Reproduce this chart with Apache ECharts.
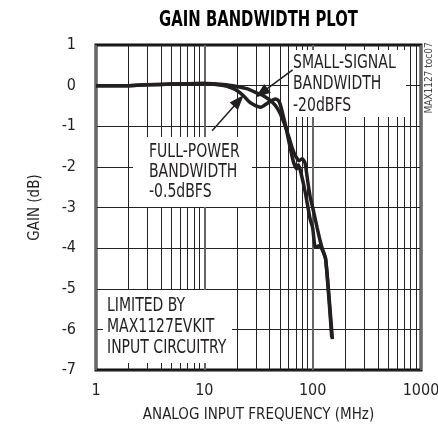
<!DOCTYPE html>
<html>
<head>
<meta charset="utf-8">
<script src="https://cdn.jsdelivr.net/npm/echarts@6/dist/echarts.min.js"></script>
<style>
  html, body { margin: 0; padding: 0; background: #fff; }
  #chart { width: 438px; height: 427px; }
</style>
</head>
<body>
<div id="chart"></div>
<script>
// ---- data ----
const xTicks = [1, 10, 100, 1000];
const minorFreqs = [2, 3, 4, 5, 6, 7, 8, 9, 20, 30, 40, 50, 60, 70, 80, 90, 200, 300, 400, 500, 600, 700, 800, 900];
const yTicks = [1, 0, -1, -2, -3, -4, -5, -6, -7];

// Small-signal bandwidth (-20dBFS)
const freqSmall = [1, 2, 3, 5, 10, 15, 20, 25, 30, 35, 40, 45, 50, 55, 60, 65, 70, 75, 80, 85, 90, 95, 100, 110, 118, 123, 132, 152];
const gainSmall = [0, 0, 0.02, 0.04, 0.05, 0.03, -0.02, -0.08, -0.17, -0.25, -0.35, -0.48, -0.68, -0.95, -1.25, -1.55, -1.75, -1.85, -1.8, -1.9, -2.35, -2.75, -3.0, -3.5, -3.85, -4.02, -4.27, -6.24];

// Full-power bandwidth (-0.5dBFS)
const freqFull = [1, 2, 3, 5, 10, 15, 18, 20, 23, 26, 30, 33, 36, 40, 45, 48, 50, 53, 57, 60, 66, 71, 74, 78, 85, 95, 100, 106, 115, 123, 132, 150];
const gainFull = [0, 0, 0.02, 0.04, 0.05, 0.0, -0.06, -0.12, -0.25, -0.4, -0.5, -0.53, -0.48, -0.4, -0.33, -0.36, -0.45, -0.7, -1.05, -1.35, -1.85, -2.05, -1.95, -2.15, -2.6, -3.3, -3.5, -3.98, -3.94, -4.05, -4.3, -6.2];

// annotation arrows: [tailFreq, tailGain, headFreq, headGain]
const arrowSmall = [65.3, 0.39, 33.7, -0.18];
const arrowFull = [11.8, -1.11, 20.8, -0.37];

const FONT = "'Liberation Sans Narrow', 'DejaVu Sans Condensed', 'Arial Narrow', sans-serif";
const INK = '#231f20';

const chart = echarts.init(document.getElementById('chart'), null, { renderer: 'canvas' });

function pairs(xs, ys) { return xs.map((x, i) => [x, ys[i]]); }

function note(x, y, text, lh) {
  return { type: 'text', z: 4, x: x, y: y, scaleX: 0.82, scaleY: 1,
    style: { text: text, font: '19px ' + FONT, fill: INK, lineHeight: lh, verticalAlign: 'top' } };
}

const option = {
  animation: false,
  backgroundColor: '#fff',
  grid: {
    left: 96, right: 17, top: 45, bottom: 57,
    outerBoundsMode: 'none', containLabel: false,
    show: true, borderColor: '#111', borderWidth: 3, backgroundColor: 'transparent'
  },
  xAxis: {
    type: 'log', logBase: 10, min: xTicks[0], max: xTicks[xTicks.length - 1],
    name: 'ANALOG INPUT FREQUENCY (MHz)', nameLocation: 'middle', nameGap: 38,
    nameTextStyle: { fontFamily: FONT, fontSize: 15, color: INK },
    axisLine: { show: false }, axisTick: { show: false },
    axisLabel: { fontFamily: FONT, fontSize: 16, color: INK, margin: 13, formatter: v => String(v) },
    splitLine: { show: true, lineStyle: { color: '#666', width: 2 } }
  },
  yAxis: {
    type: 'value', min: yTicks[yTicks.length - 1], max: yTicks[0], interval: 1,
    name: 'GAIN (dB)', nameLocation: 'middle', nameGap: 53, nameRotate: 90,
    nameTextStyle: { fontFamily: FONT, fontSize: 15, color: INK },
    axisLine: { show: false }, axisTick: { show: false },
    axisLabel: { fontFamily: FONT, fontSize: 16, color: INK, margin: 20 },
    splitLine: { show: true, lineStyle: { color: '#222', width: 1 } }
  },
  graphic: [
    { type: 'text', z: 4, x: 258.5, y: 9, scaleX: 0.75, scaleY: 1,
      style: { text: 'GAIN BANDWIDTH PLOT', font: 'bold 22px ' + FONT, fill: '#000', align: 'center', verticalAlign: 'top' } },
    { type: 'rect', z: 3, shape: { x: 289, y: 50, width: 117, height: 67 }, style: { fill: '#fff' } },
    { type: 'rect', z: 3, shape: { x: 133, y: 137, width: 119, height: 70 }, style: { fill: '#fff' } },
    { type: 'rect', z: 3, shape: { x: 103, y: 290, width: 129, height: 73 }, style: { fill: '#fff' } },
    note(293, 52, 'SMALL-SIGNAL\nBANDWIDTH\n-20dBFS', 21.5),
    note(149, 142, 'FULL-POWER\nBANDWIDTH\n-0.5dBFS', 20),
    note(107, 295.5, 'LIMITED BY\nMAX1127EVKIT\nINPUT CIRCUITRY', 21),
    { type: 'text', z: 4, x: 429, y: 78, rotation: Math.PI / 2,
      style: { text: 'MAX1127 toc07', font: '10px ' + FONT, fill: '#444', align: 'center', verticalAlign: 'middle' } }
  ],
  series: [
    {
      type: 'line', z: 1, data: [], silent: true,
      markLine: {
        z: 1, silent: true, symbol: 'none', animation: false,
        label: { show: false },
        lineStyle: { color: '#222', width: 1, type: 'solid' },
        data: minorFreqs.map(f => ({ xAxis: f }))
      }
    },
    {
      name: 'Small-signal', type: 'line', z: 6, showSymbol: false, smooth: 0.2,
      data: pairs(freqSmall, gainSmall),
      lineStyle: { color: INK, width: 3.5 },
      markLine: {
        z: 10, silent: true, symbol: ['none', 'triangle'], symbolSize: [11, 15],
        label: { show: false },
        lineStyle: { color: INK, width: 1.5, type: 'solid' },
        data: [[{ coord: [arrowSmall[0], arrowSmall[1]] }, { coord: [arrowSmall[2], arrowSmall[3]] }]]
      }
    },
    {
      name: 'Full-power', type: 'line', z: 6, showSymbol: false, smooth: 0.2,
      data: pairs(freqFull, gainFull),
      lineStyle: { color: INK, width: 3.5 },
      markLine: {
        z: 10, silent: true, symbol: ['none', 'triangle'], symbolSize: [11, 15],
        label: { show: false },
        lineStyle: { color: INK, width: 1.5, type: 'solid' },
        data: [[{ coord: [arrowFull[0], arrowFull[1]] }, { coord: [arrowFull[2], arrowFull[3]] }]]
      }
    }
  ]
};
chart.setOption(option);
</script>
</body>
</html>
